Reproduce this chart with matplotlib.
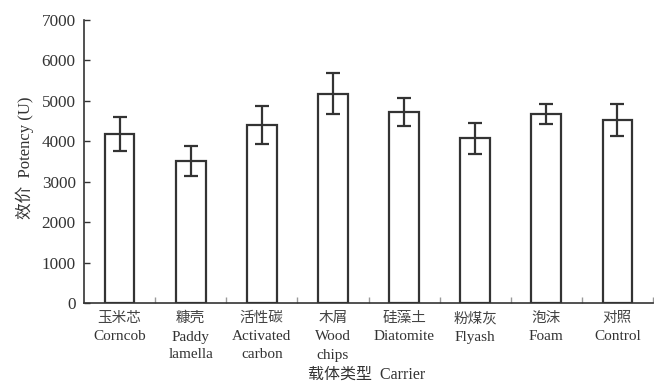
import matplotlib
matplotlib.use("Agg")
import matplotlib.pyplot as plt
from matplotlib.ticker import FixedLocator
import numpy as np

categories_cn = ["玉米芯", "糠壳", "活性碳", "木屑", "硅藻土", "粉煤灰", "泡沫", "对照"]
categories_en = ["Corncob", "Paddy\nlamella", "Activated\ncarbon", "Wood\nchips",
                 "Diatomite", "Flyash", "Foam", "Control"]
potency = [4180, 3510, 4400, 5180, 4730, 4070, 4675, 4520]
errors = [430, 370, 470, 500, 340, 390, 250, 390]
yticks = [0, 1000, 2000, 3000, 4000, 5000, 6000, 7000]

FAM = ["Liberation Serif", "Noto Sans CJK SC"]
plt.rcParams["font.family"] = FAM
TC = "#333333"

fig = plt.figure(figsize=(6.54, 3.83), dpi=100)
AX_TOP, AX_BOT = 20, 303
ax = fig.add_axes([84/654, 1-AX_BOT/383, (653-84)/654, (AX_BOT-AX_TOP)/383])

x = np.arange(len(potency))
ax.bar(x, potency, width=0.42, facecolor="white", edgecolor=TC, linewidth=1.6,
       yerr=errors, capsize=5, error_kw=dict(ecolor=TC, elinewidth=1.6, capthick=1.6))

ax.set_xlim(-0.5, len(potency) - 0.5)
ax.set_ylim(0, 7000)
ax.set_yticks(yticks)
ax.set_yticklabels([str(v) for v in yticks], fontsize=12.3, color=TC)
ax.tick_params(axis="y", direction="in", length=4, width=1, color=TC, pad=6)

ax.set_xticks(x)
ax.set_xticklabels([""] * len(x))
ax.tick_params(axis="x", which="major", length=0)
ax.xaxis.set_minor_locator(FixedLocator(np.arange(0.5, len(x), 1.0)))
ax.tick_params(axis="x", which="minor", direction="in", length=4, width=1, color="#999999")

H = AX_BOT - AX_TOP
def ay(p):
    return -(p - AX_BOT) / H

tr = ax.get_xaxis_transform()
for i in x:
    ax.text(i, ay(318), categories_cn[i], ha="center", va="center", fontsize=10.5,
            family="Noto Sans CJK SC", color="#444444", transform=tr)
    for j, line in enumerate(categories_en[i].split("\n")):
        ax.text(i, ay(337 + 18 * j), line, ha="center", va="center", fontsize=11,
                family="Liberation Serif", color=TC, transform=tr)

for s in ["top", "right"]:
    ax.spines[s].set_visible(False)
for s in ["left", "bottom"]:
    ax.spines[s].set_color(TC)
    ax.spines[s].set_linewidth(1.2)

fig.text(367/654, 1-375/383, "载体类型  Carrier", ha="center", va="center",
         fontsize=11.5, color=TC)
fig.text(25/654, 1-158/383, "效价  Potency (U)", ha="center", va="center",
         rotation=90, fontsize=12, color=TC)

fig.savefig("out.png", dpi=100)
